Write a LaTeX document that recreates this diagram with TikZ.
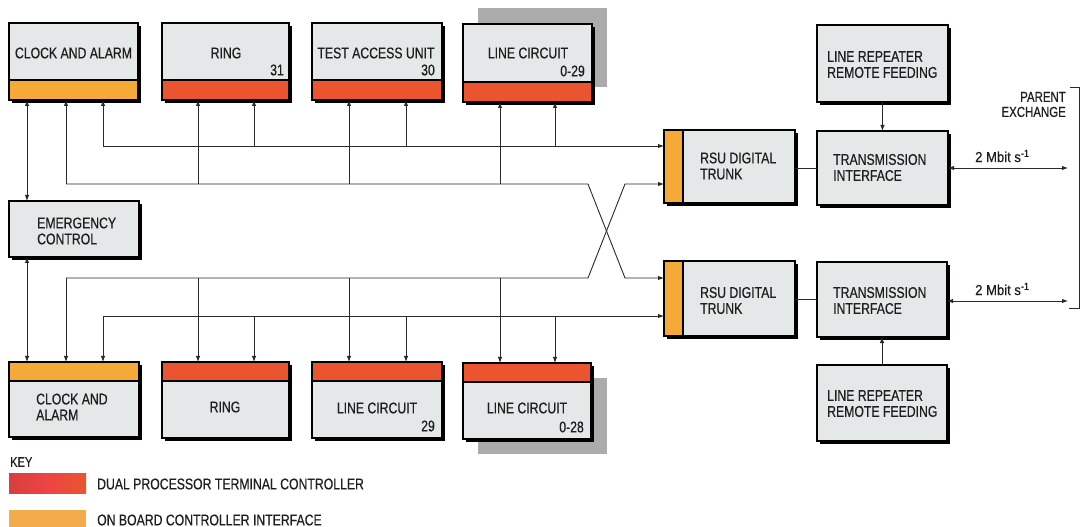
\documentclass[tikz,border=0pt]{standalone}
\usepackage{fontspec}
\setmainfont{Liberation Sans}[FakeStretch=0.79,FakeBold=0.5]
\newfontfamily\plainfont{Liberation Sans}[FakeStretch=0.9,FakeBold=0.4]
\usetikzlibrary{arrows.meta}
\definecolor{boxgrey}{HTML}{E4E8E8}
\definecolor{bandred}{HTML}{EA5530}
\definecolor{bandorange}{HTML}{F5AA38}
\definecolor{halftone}{HTML}{ABABAB}
\definecolor{txtc}{HTML}{1E1E1E}
\definecolor{linec}{HTML}{2A2A2A}
\definecolor{keyred}{HTML}{EE4444}
\definecolor{keyredl}{HTML}{D83E3E}
\definecolor{keyorange}{HTML}{F2AC4C}
\newcommand\bx[5]{%
  \fill[black] (#2+3,#3+3) rectangle (#2+#4+3,#3+#5+3);
  \node[boxs, minimum width=#4bp, minimum height=#5bp] (#1) at (#2,#3) {};}
\newcommand\bandbot[3]{%
  \fill[#3] (#1.south west) rectangle ([yshift=#2]#1.south east);
  \draw[bline] ([yshift=#2]#1.south west) -- ([yshift=#2]#1.south east);
  \draw[bline] (#1.north west) rectangle (#1.south east);}
\newcommand\bandtop[3]{%
  \fill[#3] (#1.north west) rectangle ([yshift=-#2]#1.north east);
  \draw[bline] ([yshift=-#2]#1.north west) -- ([yshift=-#2]#1.north east);
  \draw[bline] (#1.north west) rectangle (#1.south east);}
\begin{document}
\begin{tikzpicture}[x=1bp,y=-1bp,
  boxs/.style={fill=boxgrey, draw=black, line width=1.1bp, inner sep=0, outer sep=0, anchor=north west},
  bline/.style={draw=black, line width=1.1bp},
  txt/.style={inner sep=0, text=txtc, font=\fontsize{15.5bp}{16bp}\selectfont, align=left},
  smalltxt/.style={inner sep=0, text=txtc, font=\fontsize{14.5bp}{15bp}\selectfont, align=right},
  ln/.style={draw=linec, line width=0.9bp},
  arr/.style={ln, -{Latex[length=6bp,width=4.5bp]}},
  darr/.style={ln, {Latex[length=6bp,width=4.5bp]}-{Latex[length=6bp,width=4.5bp]}},
  swatch/.style={inner sep=0, outer sep=0, anchor=north west, minimum width=77bp}]
\useasboundingbox[fill=white] (0,0) rectangle (1085,527);

% halftone shadows
\fill[halftone] (478,8) rectangle (607,87);
\fill[halftone] (478,378) rectangle (607,454);

% top row
\bx{clockT}{9}{23}{129}{77}
\bx{ringT}{162}{23}{127}{77}
\bx{tauT}{312}{23}{130}{77}
\bx{lcT}{463}{24}{129}{78}
\bx{lrT}{817}{25}{131}{77}
\bandbot{clockT}{20bp}{bandorange}
\bandbot{ringT}{20bp}{bandred}
\bandbot{tauT}{20bp}{bandred}
\bandbot{lcT}{20bp}{bandred}

% middle
\bx{rsuT}{664}{130}{131}{73}
\bx{tiT}{817}{131}{131}{74}
\bx{emerg}{9}{201}{130}{56}
\bx{rsuB}{664}{261}{131}{75}
\bx{tiB}{817}{262}{130}{75}
\fill[bandorange] (rsuT.north west) rectangle ([xshift=19bp]rsuT.south west);
\draw[bline] ([xshift=19bp]rsuT.north west) -- ([xshift=19bp]rsuT.south west);
\draw[bline] (rsuT.north west) rectangle (rsuT.south east);
\fill[bandorange] (rsuB.north west) rectangle ([xshift=19bp]rsuB.south west);
\draw[bline] ([xshift=19bp]rsuB.north west) -- ([xshift=19bp]rsuB.south west);
\draw[bline] (rsuB.north west) rectangle (rsuB.south east);

% bottom row
\bx{clockB}{9}{362}{130}{75}
\bx{ringB}{162}{362}{127}{76}
\bx{lcB}{312}{362}{130}{76}
\bx{lcC}{463}{363}{128}{76}
\bx{lrB}{817}{365}{130}{76}
\bandtop{clockB}{19bp}{bandorange}
\bandtop{ringB}{19bp}{bandred}
\bandtop{lcB}{19bp}{bandred}
\bandtop{lcC}{19bp}{bandred}

% texts
\node[txt] (t1) at (73.5,53) {CLOCK AND ALARM};
\node[txt] (t2) at (226,53) {RING};
\node[txt, anchor=east] (t3) at (284,70) {31};
\node[txt] (t4) at (376,53) {TEST ACCESS UNIT};
\node[txt, anchor=east] (t5) at (435,70) {30};
\node[txt] (t6) at (528,53) {LINE CIRCUIT};
\node[txt, anchor=east] (t7) at (585,71) {0-29};
\node[txt, anchor=west] (t8) at (827,64.5) {LINE REPEATER\\REMOTE FEEDING};
\node[txt, anchor=west] (t9) at (700,166) {RSU DIGITAL\\TRUNK};
\node[txt, anchor=west] (t10) at (833,167.5) {TRANSMISSION\\INTERFACE};
\node[txt, anchor=west] (t11) at (37,231) {EMERGENCY\\CONTROL};
\node[txt, anchor=west] (t12) at (700,300.5) {RSU DIGITAL\\TRUNK};
\node[txt, anchor=west] (t13) at (833,300.5) {TRANSMISSION\\INTERFACE};
\node[txt, anchor=west] (t14) at (827,403.5) {LINE REPEATER\\REMOTE FEEDING};
\node[txt, anchor=west] (t15) at (36,407) {CLOCK AND\\ALARM};
\node[txt] (t16) at (225,407) {RING};
\node[txt] (t17) at (377,408) {LINE CIRCUIT};
\node[txt, anchor=east] (t18) at (435,426) {29};
\node[txt] (t19) at (527,408) {LINE CIRCUIT};
\node[txt, anchor=east] (t20) at (584,427) {0-28};

% parent exchange
\node[smalltxt, anchor=east] (pe) at (1066,104.5) {PARENT\\EXCHANGE};
\coordinate (brA) at (1070,87);
\coordinate (brB) at (1079,87);
\coordinate (brC) at (1079,308);
\coordinate (brD) at (1069,308);
\draw[ln] (brA) -- (brB) -- (brC) -- (brD);
\coordinate (pe1) at (1068,168);
\coordinate (pe2) at (1068,301);
\draw[darr] (tiT.east |- pe1) -- (pe1);
\draw[darr] (tiB.east |- pe2) -- (pe2);
\node[inner sep=0, text=txtc, font=\plainfont\fontsize{14.5bp}{16bp}\selectfont, anchor=west] (m1) at (975,156) {2 Mbit s\textsuperscript{-1}};
\node[inner sep=0, text=txtc, font=\plainfont\fontsize{14.5bp}{16bp}\selectfont, anchor=west] (m2) at (975,289) {2 Mbit s\textsuperscript{-1}};

% RSU - TI and line repeaters
\draw[ln] (rsuT.east |- tiT.west) -- (tiT.west);
\draw[ln] (rsuB.east |- tiB.west) -- (tiB.west);
\draw[arr] (lrT.south) -- (tiT.north);
\draw[arr] (lrB.north) -- (tiB.south);

% emergency links
\draw[darr] ([xshift=18bp]clockT.south west) -- ([xshift=18bp]emerg.north west);
\draw[darr] ([xshift=18bp]emerg.south west) -- ([xshift=18bp]clockB.north west);

% upper bus (y 146) to top boxes, to RSU top
\coordinate (u0) at (103,146);
\coordinate (ua) at (254,146);
\coordinate (ub) at (406,146);
\coordinate (uc) at (555,146);
\draw[arr] (u0) -- (u0 -| rsuT.west);
\draw[arr] (u0) -- (u0 |- clockT.south);
\draw[arr] (ua) -- (ua |- ringT.south);
\draw[arr] (ub) -- (ub |- tauT.south);
\draw[arr] (uc) -- (uc |- lcT.south);

% lower top bus (y 184) crossing to RSU bottom
\coordinate (l0) at (66,184);
\coordinate (la) at (198,184);
\coordinate (lb) at (349,184);
\coordinate (lc) at (500,184);
\coordinate (lk) at (588,184);
\coordinate (lk2) at (625,278);
\draw[arr] (l0) -- (lk) -- (lk2) -- (lk2 -| rsuB.west);
\draw[arr] (l0) -- (l0 |- clockT.south);
\draw[arr] (la) -- (la |- ringT.south);
\draw[arr] (lb) -- (lb |- tauT.south);
\draw[arr] (lc) -- (lc |- lcT.south);

% upper bottom bus (y 278) crossing to RSU top
\coordinate (b0) at (66,278);
\coordinate (ba) at (198,278);
\coordinate (bb) at (349,278);
\coordinate (bc) at (500,278);
\coordinate (bk) at (588,278);
\coordinate (bk2) at (625,184);
\draw[arr] (b0) -- (bk) -- (bk2) -- (bk2 -| rsuT.west);
\draw[arr] (b0) -- (b0 |- clockB.north);
\draw[arr] (ba) -- (ba |- ringB.north);
\draw[arr] (bb) -- (bb |- lcB.north);
\draw[arr] (bc) -- (bc |- lcC.north);

% lower bottom bus (y 316)
\coordinate (c0) at (103,316);
\coordinate (ca) at (254,316);
\coordinate (cb) at (406,316);
\coordinate (cc) at (555,316);
\draw[arr] (c0) -- (c0 -| rsuB.west);
\draw[arr] (c0) -- (c0 |- clockB.north);
\draw[arr] (ca) -- (ca |- ringB.north);
\draw[arr] (cb) -- (cb |- lcB.north);
\draw[arr] (cc) -- (cc |- lcC.north);

% key
\node[inner sep=0, text=txtc, font=\fontsize{14bp}{15bp}\selectfont, anchor=west] (key) at (10,462) {KEY};
\node[swatch, minimum height=20bp, left color=keyredl, right color=bandred, middle color=keyred] (k1) at (9,473) {};
\node[swatch, minimum height=18bp, fill=keyorange] (k2) at (9,510) {};
\node[txt, anchor=west] (k1t) at (97,484) {DUAL PROCESSOR TERMINAL CONTROLLER};
\node[txt, anchor=west] (k2t) at (97,520) {ON BOARD CONTROLLER INTERFACE};
\end{tikzpicture}
\end{document}
